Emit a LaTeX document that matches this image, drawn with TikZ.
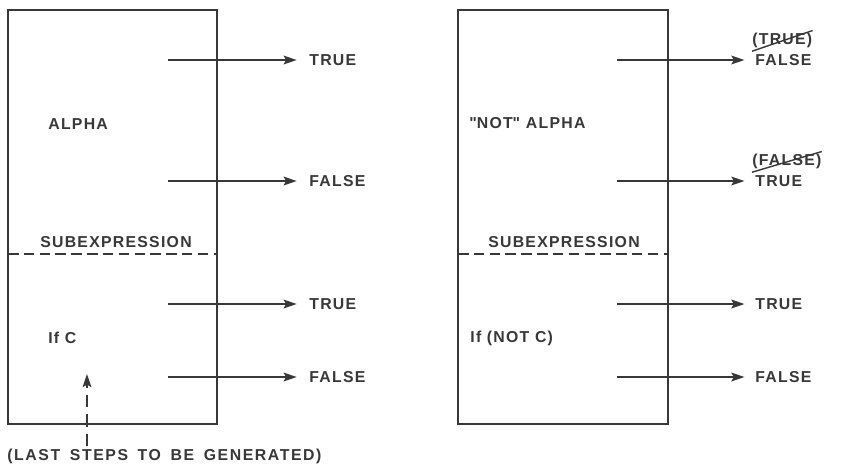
\documentclass[tikz,border=0pt]{standalone}
\usepackage{fontspec}
\setmainfont{Liberation Sans}
\usetikzlibrary{arrows.meta}
\definecolor{ink}{gray}{0.22}

\begin{document}
\begin{tikzpicture}[x=0.02cm,y=-0.02cm,
  every node/.style={font=\fontsize{9}{10}\selectfont\bfseries\addfontfeature{LetterSpace=8},text=ink,inner sep=0pt},
  outline/.style={draw=ink,line width=0.8pt},
  branch/.style={draw=ink,line width=0.8pt,-{Stealth[length=7.5pt,width=5pt,inset=1.5pt]}}]
\useasboundingbox (0,0) rectangle (841,467);
% left box
\draw[outline] (8,10) rectangle (217,424);
\draw[outline,dashed,dash pattern=on 6pt off 3pt] (8,254) -- (217,254);
\node[anchor=west] (alpha) at (48,124) {ALPHA};
\node (subL) at (116,242) {SUBEXPRESSION};
\node[anchor=west] (ifc) at (48,338) {If C};
\node[anchor=west] (t1) at (309,60) {TRUE};
\node[anchor=west] (f1) at (309,181) {FALSE};
\node[anchor=west] (t2) at (309,304) {TRUE};
\node[anchor=west] (f2) at (309,377) {FALSE};
\coordinate (s1) at (168,60);
\coordinate (s2) at (168,181);
\coordinate (s3) at (168,304);
\coordinate (s4) at (168,377);
\draw[branch] (s1) -- ([xshift=-7pt]t1.west);
\draw[branch] (s2) -- ([xshift=-7pt]f1.west);
\draw[branch] (s3) -- ([xshift=-7pt]t2.west);
\draw[branch] (s4) -- ([xshift=-7pt]f2.west);
% last steps
\node[anchor=west,font=\fontsize{9}{10}\selectfont\bfseries\addfontfeature{LetterSpace=10}] (last) at (7,456) {\spaceskip=5.5pt (LAST STEPS TO BE GENERATED)};
\coordinate (up) at (87,374);
\draw[branch,dash pattern=on 7pt off 4pt] (87,446) -- (up);
% right box
\draw[outline] (458,10) rectangle (668,424);
\draw[outline,dashed,dash pattern=on 6pt off 3pt] (458,254) -- (668,254);
\node[anchor=west] (notalpha) at (469,123) {\textquotedbl NOT\textquotedbl{} ALPHA};
\node (subR) at (564,242) {SUBEXPRESSION};
\node[anchor=west] (ifnc) at (470,338) {If (NOT C)};
\node[anchor=west] (f3) at (755,60) {FALSE};
\node[anchor=west] (t3) at (755,181) {TRUE};
\node[anchor=west] (t4) at (755,304) {TRUE};
\node[anchor=west] (f4) at (755,377) {FALSE};
\coordinate (r1) at (617,60);
\coordinate (r2) at (617,181);
\coordinate (r3) at (617,304);
\coordinate (r4) at (617,377);
\draw[branch] (r1) -- ([xshift=-6pt]f3.west);
\draw[branch] (r2) -- ([xshift=-6pt]t3.west);
\draw[branch] (r3) -- ([xshift=-6pt]t4.west);
\draw[branch] (r4) -- ([xshift=-6pt]f4.west);
% struck-out values
\node[anchor=west] (oldt) at (752,40) {(TRUE)};
\node[anchor=west] (oldf) at (752,161) {(FALSE)};
\draw[outline] ([yshift=-2pt]oldt.south west) -- ([yshift=1pt]oldt.north east);
\draw[outline] ([yshift=-2pt]oldf.south west) -- ([yshift=1pt]oldf.north east);
\end{tikzpicture}
\end{document}
